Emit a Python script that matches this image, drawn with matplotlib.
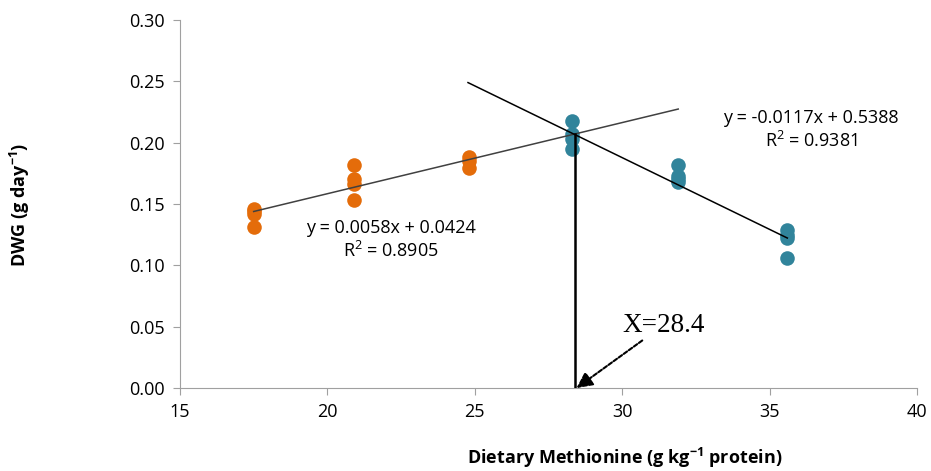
import numpy as np
import matplotlib.pyplot as plt

plt.rcParams['font.family'] = ['Open Sans', 'DejaVu Sans']
plt.rcParams['mathtext.default'] = 'regular'

# dietary methionine levels and DWG readings
x_low = [17.5, 17.5, 17.5, 17.5, 20.9, 20.9, 20.9, 20.9, 24.8, 24.8, 24.8]
y_low = [0.146, 0.144, 0.142, 0.131, 0.182, 0.170, 0.166, 0.153, 0.188, 0.185, 0.179]
x_high = [28.3, 28.3, 28.3, 28.3, 31.9, 31.9, 31.9, 31.9, 35.6, 35.6, 35.6, 35.6]
y_high = [0.218, 0.207, 0.203, 0.195, 0.182, 0.173, 0.170, 0.168, 0.129, 0.125, 0.122, 0.106]

# regression lines
a1, b1 = 0.0058, 0.0424
a2, b2 = -0.0117, 0.5388
line1_x = [17.5, 31.9]
line2_x = [24.77, 35.6]
x_break = 28.4

fig = plt.figure(figsize=(9.31, 4.71), dpi=100)
ax = fig.add_axes([0.1933, 0.1762, 0.7917, 0.7813])

ax.scatter(x_low, y_low, s=110, color='#E46C0A', zorder=3, linewidths=0)
ax.scatter(x_high, y_high, s=110, color='#31849B', zorder=3, linewidths=0)

lx = np.array(line1_x)
ax.plot(lx, a1 * lx + b1, color='#404040', lw=1.1, zorder=4)
hx = np.array(line2_x)
ax.plot(hx, a2 * hx + b2, color='black', lw=1.1, zorder=4)

y_break = a1 * x_break + b1
ax.plot([x_break, x_break], [0, y_break], color='black', lw=1.8, zorder=4)

ax.annotate('X=28.4', xy=(28.45, 0.0), xytext=(30.0, 0.041),
            fontsize=19.5, family=['Liberation Serif', 'DejaVu Serif'],
            va='bottom', ha='left',
            arrowprops=dict(arrowstyle='-|>', color='black', lw=1.5,
                            linestyle=(0, (2, 1)), mutation_scale=24,
                            shrinkA=0, shrinkB=0))

ax.text(22.15, 0.1205, 'y = 0.0058x + 0.0424\nR$^2$ = 0.8905', fontsize=13,
        ha='center', va='center', linespacing=1.25)
ax.text(36.4, 0.2105, 'y = -0.0117x + 0.5388\nR$^2$ = 0.9381', fontsize=13,
        ha='center', va='center', linespacing=1.25)

ax.set_xlim(15, 40)
ax.set_ylim(0, 0.30)
ax.set_xticks([15, 20, 25, 30, 35, 40])
ax.set_yticks(np.arange(0, 0.31, 0.05))
ax.set_yticklabels(['%.2f' % v for v in np.arange(0, 0.31, 0.05)])
ax.tick_params(labelsize=13, color='#a0a0a0', length=5, pad=6)
for s in ['top', 'right']:
    ax.spines[s].set_visible(False)
for s in ['left', 'bottom']:
    ax.spines[s].set_color('#a0a0a0')

fig.text(0.671, 0.028, 'Dietary Methionine (g kg$^{-1}$ protein)', fontsize=13,
         fontweight='bold', ha='center', va='center')
fig.text(0.0215, 0.565, 'DWG (g day$^{-1}$)', fontsize=13, fontweight='bold',
         ha='center', va='center', rotation=90)

fig.savefig('out.png', dpi=100)
